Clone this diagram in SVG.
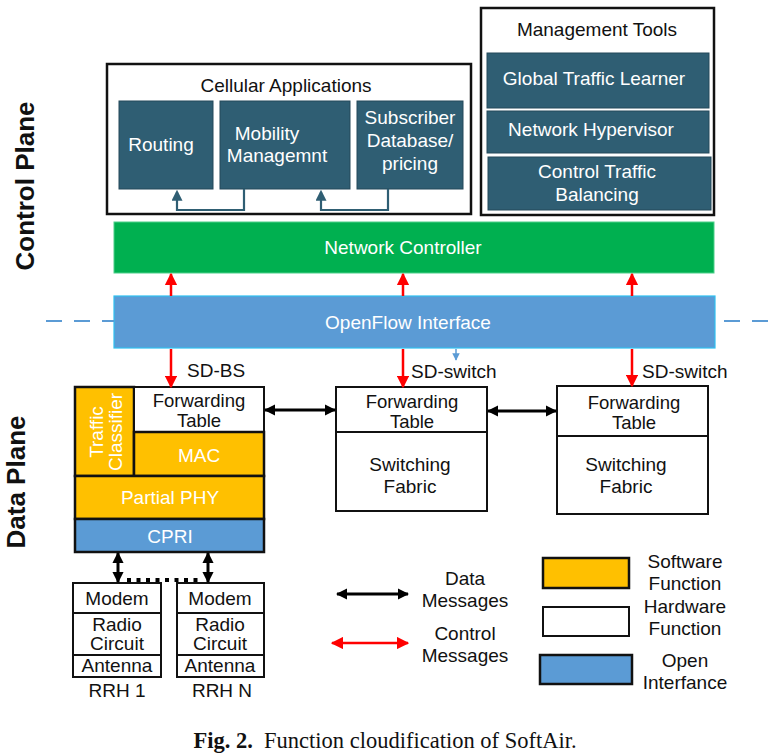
<svg xmlns="http://www.w3.org/2000/svg" width="775" height="755" viewBox="0 0 775 755">
<defs>
<style>
text{font-family:"Liberation Sans",Arial,sans-serif;font-size:19px;fill:#111;text-anchor:middle}
.w{fill:#fff}
.teal{fill:#2f5e73;stroke:#24495a;stroke-width:1}
.frame{fill:#fff;stroke:#111;stroke-width:2.5}
.blk{fill:#fff;stroke:#111;stroke-width:2}
.org{fill:#ffc000;stroke:#111;stroke-width:2.5}
.blu{fill:#5b9bd5;stroke:#111;stroke-width:2.5}
.red{stroke:#ff0000;stroke-width:2.5;fill:none}
.dat{stroke:#000;stroke-width:3;fill:none}
.lbl{font-size:26px;font-weight:bold}
.ft{font-size:18.5px}
</style>
<marker id="rh" viewBox="0 0 10 10" refX="9" refY="5" markerWidth="5" markerHeight="5" orient="auto-start-reverse" markerUnits="strokeWidth"><path d="M0,0 L10,5 L0,10 z" fill="#ff0000"/></marker>
<marker id="bh" viewBox="0 0 10 10" refX="9" refY="5" markerWidth="3.8" markerHeight="3.8" orient="auto-start-reverse" markerUnits="strokeWidth"><path d="M0,0 L10,5 L0,10 z" fill="#000"/></marker>
<marker id="th" viewBox="0 0 10 10" refX="8" refY="5" markerWidth="5" markerHeight="5" orient="auto" markerUnits="strokeWidth"><path d="M0,0 L10,5 L0,10 z" fill="#2f5e73"/></marker>
<marker id="sb" viewBox="0 0 10 10" refX="9" refY="5" markerWidth="5" markerHeight="5" orient="auto" markerUnits="strokeWidth"><path d="M0,0 L10,5 L0,10 z" fill="#5b9bd5"/></marker>
</defs>

<text class="lbl" transform="translate(34,186) rotate(-90)">Control Plane</text>
<text class="lbl" transform="translate(25,482) rotate(-90)">Data Plane</text>

<g id="cellular-applications">
<rect class="frame" x="107" y="64" width="364" height="150"/>
<text x="286" y="92">Cellular Applications</text>
</g>
<g id="routing"><rect class="teal" x="119" y="101" width="94" height="88"/><text class="w" x="161" y="151">Routing</text></g>
<g id="mobility"><rect class="teal" x="220" y="101" width="130" height="88"/><text class="w" x="267" y="140">Mobility</text><text class="w" x="277" y="162">Managemnt</text></g>
<g id="subscriber"><rect class="teal" x="357" y="101" width="106" height="88"/><text class="w" x="410" y="124">Subscriber</text><text class="w" x="410" y="147">Database/</text><text class="w" x="410" y="170">pricing</text></g>

<g id="management-tools">
<rect class="frame" x="481" y="8" width="233" height="207"/>
<text x="597" y="36">Management Tools</text>
</g>
<g id="global-traffic-learner"><rect class="teal" x="487" y="53" width="222" height="55"/><text class="w" x="594" y="85">Global Traffic Learner</text></g>
<g id="network-hypervisor"><rect class="teal" x="487" y="111" width="222" height="42"/><text class="w" x="591" y="136">Network Hypervisor</text></g>
<g id="control-traffic-balancing"><rect class="teal" x="488" y="157" width="223" height="53"/><text class="w" x="597" y="178">Control Traffic</text><text class="w" x="597" y="201">Balancing</text></g>

<g id="network-controller"><rect x="114" y="222" width="600" height="51" fill="#00b050" stroke="#4dd08a" stroke-width="1"/><text class="w" x="403" y="254">Network Controller</text></g>

<g id="openflow-interface"><rect x="114" y="296" width="601" height="52" fill="#5b9bd5" stroke="#2fc0f0" stroke-width="1.2"/><text class="w" x="408" y="329">OpenFlow Interface</text></g>

<g id="sd-bs">
<rect class="blk" x="75" y="387" width="189" height="165"/>
<rect class="org" x="75" y="387" width="59" height="89"/>
<rect class="blk" x="134" y="387" width="130" height="45" stroke-width="2.5"/>
<rect class="org" x="134" y="432" width="130" height="44"/>
<rect class="org" x="75" y="476" width="189" height="43"/>
<rect class="blu" x="75" y="519" width="189" height="33"/>
<text class="w" transform="translate(103,432) rotate(-90)">Traffic</text>
<text class="w" transform="translate(122,432) rotate(-90)">Classifier</text>
<text class="ft" x="199" y="407">Forwarding</text><text class="ft" x="199" y="427">Table</text>
<text class="w" x="199" y="462">MAC</text>
<text class="w" x="170" y="504">Partial PHY</text>
<text class="w" x="170" y="543">CPRI</text>
</g>

<g id="sd-switch-1">
<rect class="blk" x="336" y="387" width="151" height="124"/>
<line x1="336" y1="432" x2="487" y2="432" stroke="#111" stroke-width="2"/>
<text class="ft" x="412" y="408">Forwarding</text><text class="ft" x="412" y="428">Table</text>
<text x="410" y="471">Switching</text><text x="410" y="493">Fabric</text>
</g>
<g id="sd-switch-2">
<rect class="blk" x="557" y="386" width="151" height="128"/>
<line x1="557" y1="436" x2="708" y2="436" stroke="#111" stroke-width="2"/>
<text class="ft" x="634" y="409">Forwarding</text><text class="ft" x="634" y="429">Table</text>
<text x="626" y="471">Switching</text><text x="626" y="493">Fabric</text>
</g>

<g id="rrh-1">
<rect class="blk" x="73" y="583" width="88" height="94"/>
<line x1="73" y1="613" x2="161" y2="613" stroke="#111" stroke-width="2"/>
<line x1="73" y1="655" x2="161" y2="655" stroke="#111" stroke-width="2"/>
<text x="117" y="605">Modem</text><text x="117" y="631">Radio</text><text x="117" y="650">Circuit</text><text x="117" y="672">Antenna</text>
<text x="117" y="697">RRH 1</text>
</g>
<g id="rrh-n">
<rect class="blk" x="177" y="583" width="87" height="94"/>
<line x1="177" y1="613" x2="264" y2="613" stroke="#111" stroke-width="2"/>
<line x1="177" y1="655" x2="264" y2="655" stroke="#111" stroke-width="2"/>
<text x="220" y="605">Modem</text><text x="220" y="631">Radio</text><text x="220" y="650">Circuit</text><text x="220" y="672">Antenna</text>
<text x="222" y="697">RRH N</text>
</g>

<g id="connectors">
<path d="M244,189 V210 H177 V192" stroke="#2f5e73" stroke-width="2.2" fill="none" marker-end="url(#th)"/>
<path d="M388,189 V210 H321 V192" stroke="#2f5e73" stroke-width="2.2" fill="none" marker-end="url(#th)"/>
<line class="red" x1="171" y1="296" x2="171" y2="274" marker-end="url(#rh)"/>
<line class="red" x1="403" y1="296" x2="403" y2="274" marker-end="url(#rh)"/>
<line class="red" x1="632" y1="296" x2="632" y2="274" marker-end="url(#rh)"/>
<line class="red" x1="171" y1="349" x2="171" y2="387" marker-end="url(#rh)"/>
<line class="red" x1="403" y1="349" x2="403" y2="387" marker-end="url(#rh)"/>
<line class="red" x1="632" y1="349" x2="632" y2="386" marker-end="url(#rh)"/>
<line x1="456" y1="349" x2="456" y2="360" stroke="#5b9bd5" stroke-width="1.5" marker-end="url(#sb)"/>
<line x1="46" y1="321" x2="114" y2="321" stroke="#5b9bd5" stroke-width="2" stroke-dasharray="16 12"/>
<line x1="724" y1="321" x2="770" y2="321" stroke="#5b9bd5" stroke-width="2" stroke-dasharray="16 12"/>
<line class="dat" x1="265" y1="410" x2="335" y2="410" marker-start="url(#bh)" marker-end="url(#bh)"/>
<line class="dat" x1="488" y1="411" x2="556" y2="411" marker-start="url(#bh)" marker-end="url(#bh)"/>
<line class="dat" x1="118" y1="553" x2="118" y2="582" stroke-width="2.5" marker-start="url(#bh)" marker-end="url(#bh)"/>
<line class="dat" x1="208" y1="553" x2="208" y2="582" stroke-width="2.5" marker-start="url(#bh)" marker-end="url(#bh)"/>
<line x1="127" y1="580" x2="200" y2="580" stroke="#000" stroke-width="4" stroke-dasharray="4 5.5"/>
<text x="187" y="377" style="text-anchor:start">SD-BS</text>
<text x="411" y="378" style="text-anchor:start">SD-switch</text>
<text x="642" y="378" style="text-anchor:start">SD-switch</text>
</g>

<g id="legend">
<line class="dat" x1="337" y1="594" x2="408" y2="594" marker-start="url(#bh)" marker-end="url(#bh)"/>
<line class="red" x1="332" y1="643" x2="408" y2="643" stroke-width="3" marker-start="url(#rh)" marker-end="url(#rh)"/>
<text x="465" y="585">Data</text><text x="465" y="607">Messages</text>
<text x="465" y="640">Control</text><text x="465" y="662">Messages</text>
<rect class="org" x="543" y="558" width="86" height="30" stroke-width="2"/>
<rect class="blk" x="543" y="607" width="86" height="29"/>
<rect class="blu" x="540" y="655" width="92" height="29" stroke-width="2"/>
<text x="685" y="568">Software</text><text x="685" y="590">Function</text>
<text x="685" y="613">Hardware</text><text x="685" y="635">Function</text>
<text x="685" y="667">Open</text><text x="685" y="689">Interfance</text>
</g>

<text x="385" y="748" xml:space="preserve" style="font-family:'Liberation Serif','Times New Roman',serif;font-size:22.5px"><tspan font-weight="bold">Fig. 2.</tspan>  Function cloudification of SoftAir.</text>
</svg>
